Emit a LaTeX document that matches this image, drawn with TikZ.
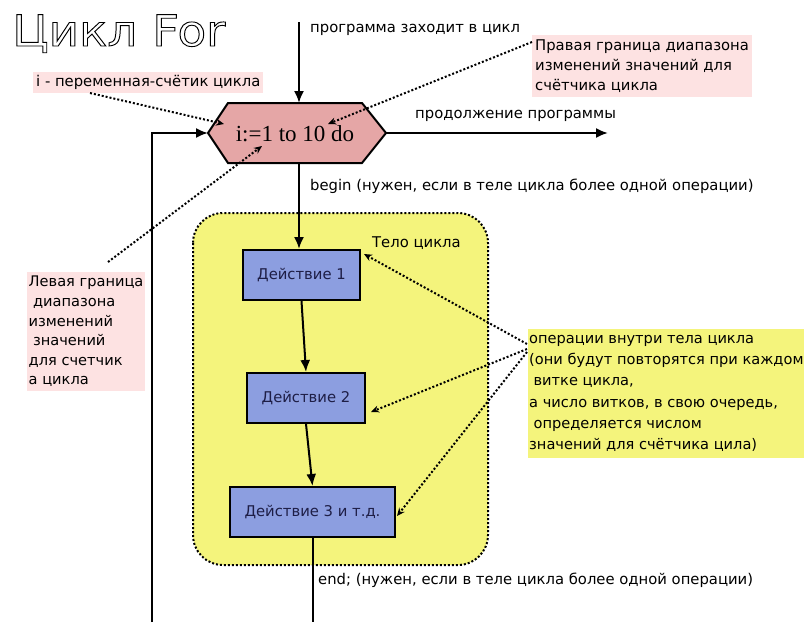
\documentclass[tikz,border=0pt]{standalone}
\usepackage{fontspec}
\setmainfont{DejaVu Sans}
\newfontfamily\serifrm{Liberation Serif}
\newfontfamily\titlefont{DejaVu Sans}
\usetikzlibrary{arrows.meta}
\definecolor{hexpink}{RGB}{229,166,166}
\definecolor{notepink}{RGB}{253,226,226}
\definecolor{bodyyellow}{RGB}{244,244,124}
\definecolor{actblue}{RGB}{140,158,224}
\definecolor{acttext}{RGB}{30,30,70}
\newcommand{\lblf}{\fontsize{14.8}{20}\selectfont}
\begin{document}
\begin{tikzpicture}[x=1pt,y=-1pt,
  lbl/.style={font=\lblf, anchor=west, inner sep=0pt},
  notebox/.style={anchor=north west, align=left, inner xsep=3pt, inner ysep=3pt},
  flow/.style={line width=2pt, -{Latex[length=12pt,width=10pt]}},
  pointer/.style={line width=2pt, dash pattern=on 2pt off 2pt, -{Stealth[length=8pt,width=7pt]}},
  act/.style={draw, line width=2pt, fill=actblue, minimum height=50pt, inner sep=0pt, font=\lblf, text=acttext}]
\fill[white] (0,0) rectangle (809,622);
\useasboundingbox (0,0) rectangle (809,622);
% title
\node[anchor=base west, inner sep=0pt, xscale=1.09, font=\titlefont\fontsize{43}{43}\selectfont] (title) at (12,46)
  {\special{pdf:literal direct 1 Tr 0.9 w}Цикл For\special{pdf:literal direct 0 Tr}};
% loop body
\draw[line width=2pt, dash pattern=on 2pt off 2pt, fill=bodyyellow, rounded corners=30pt] (193,213) rectangle (488,565);
\node[lbl] (bodylbl) at (372,243) {Тело цикла};
% hexagon
\draw[line width=2pt, fill=hexpink] (208,133) -- (228,103) -- (362,103) -- (386,133) -- (362,163) -- (228,163) -- cycle;
\node[inner sep=0pt, font=\serifrm\fontsize{23}{23}\selectfont] (hex) at (295,134) {i:=1 to 10 do};
\coordinate (hexW) at (208,133);
\coordinate (hexE) at (386,133);
\coordinate (hexT) at (299,103);
\coordinate (hexB) at (299,163);
\coordinate (start) at (299,22);
\coordinate (cont) at (608,133);
\coordinate (loopB) at (152,622);
\coordinate (loopT) at (152,133);
\coordinate (endB) at (312.5,622);
% actions
\node[act, minimum width=117pt] (d1) at (301.5,275) {Действие 1};
\node[act, minimum width=118pt] (d2) at (306,398) {Действие 2};
\node[act, minimum width=165pt] (d3) at (312.5,512) {Действие 3 и т.д.};
% flow
\draw[flow] (start) -- (hexT);
\draw[flow] (hexE) -- (cont);
\draw[flow] (hexB) -- (hexB |- d1.north);
\draw[flow] (d1.south) -- (d2.north);
\draw[flow] (d2.south) -- (d3.north);
\draw[line width=2pt] (d3.south) -- (endB);
\draw[flow] (loopB) -- (loopT) -- (hexW);
% labels
\node[lbl] (enter) at (310,30) {программа заходит в цикл};
\node[lbl] (contl) at (415,116) {продолжение программы};
\node[lbl] (beginl) at (310,186) {begin (нужен, если в теле цикла более одной операции)};
\node[lbl] (endl) at (318,580) {end; (нужен, если в теле цикла более одной операции)};
% notes
\node[notebox, fill=notepink, font=\fontsize{14.8}{20}\selectfont] (inote) at (33,72) {i - переменная-счётик цикла};
\node[notebox, fill=notepink, font=\fontsize{14.8}{20}\selectfont, inner ysep=4.5pt] (rnote) at (532,35) {Правая граница диапазона\\изменений значений для\\счётчика цикла};
\node[notebox, fill=notepink, font=\fontsize{14.6}{19.6}\selectfont, inner ysep=4pt, inner xsep=1.5pt] (lnote) at (27,272) {Левая граница\\\hspace*{0.3em}диапазона\\изменений\\\hspace*{0.3em}значений\\для счетчик\\а цикла};
\node[notebox, fill=bodyyellow, font=\fontsize{14.6}{21.3}\selectfont, inner xsep=1pt, inner ysep=6pt] (onote) at (528,329) {операции внутри тела цикла\\(они будут повторятся при каждом\\\hspace*{0.3em}витке цикла,\\а число витков, в свою очередь,\\\hspace*{0.3em}определяется числом\\значений для счётчика цила)};
% pointers
\coordinate (iS) at (90,93);
\coordinate (iT) at (224,124);
\coordinate (rS) at (532,42);
\coordinate (rT) at (328,124);
\coordinate (lS) at (108,262);
\coordinate (lT) at (262,146);
\coordinate (o1) at (527,344);
\coordinate (o2) at (527,349);
\coordinate (o3) at (527,352);
\draw[pointer] (iS) -- (iT);
\draw[pointer] (rS) -- (rT);
\draw[pointer] (lS) -- (lT);
\draw[pointer] (o1) -- ([xshift=3pt,yshift=21pt]d1.east);
\draw[pointer] (o2) -- ([xshift=5pt,yshift=-14pt]d2.east);
\draw[pointer] (o3) -- ([xshift=1pt,yshift=-4pt]d3.east);
\end{tikzpicture}
\end{document}
